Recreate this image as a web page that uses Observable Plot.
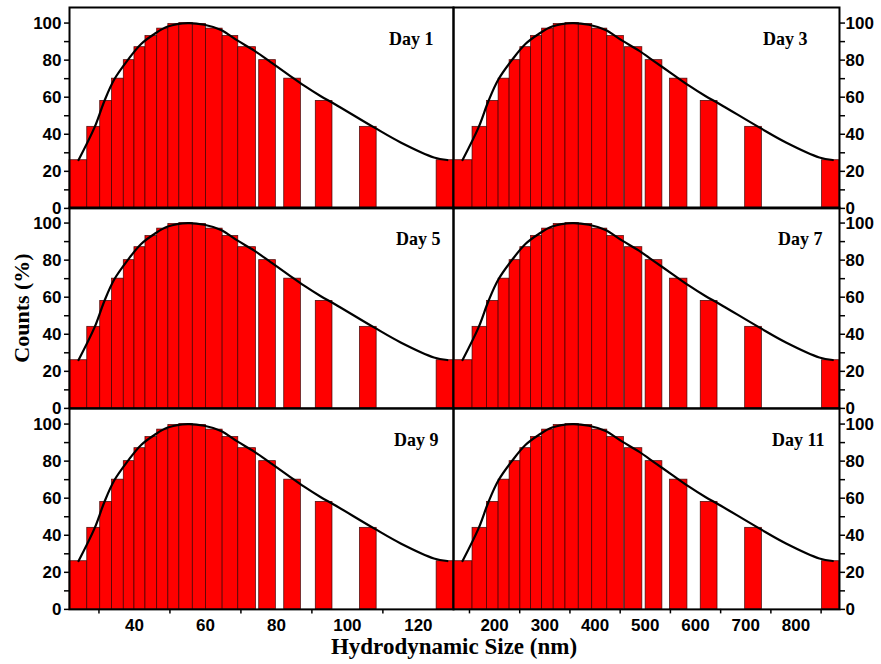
<!DOCTYPE html>
<html><head><meta charset="utf-8">
<script src="https://cdn.jsdelivr.net/npm/d3@7"></script>
<script src="https://cdn.jsdelivr.net/npm/@observablehq/plot@0.6"></script>
<style>
body{margin:0;background:#fff;}
#chart{position:relative;width:881px;height:664px;overflow:hidden;background:#fff;}
.panel{position:absolute;}
.title{position:absolute;font-family:"Liberation Serif","Times New Roman",serif;font-weight:bold;color:#000;white-space:nowrap;line-height:1;}
</style></head><body><div id="chart"></div>
<script>
// ---- data ----
const days = ["Day 1", "Day 3", "Day 5", "Day 7", "Day 9", "Day 11"];
const counts = [26, 44, 58, 70, 80, 87, 93, 97, 99.5, 100, 99.5, 97, 93, 87, 80, 70, 58, 44, 26];
// bin edges (nm), left column (small size axis)
const smallStart = [21.7, 26.7, 30.35, 33.7, 37.0, 40.0, 43.1, 46.4, 49.55, 52.65, 56.45, 60.15, 64.85, 69.25, 75.15, 82.2, 91.1, 103.55, 125.15];
const smallEnd   = [26.7, 30.35, 33.7, 37.0, 40.0, 43.1, 46.4, 49.55, 52.65, 56.45, 60.15, 64.85, 69.25, 74.25, 79.85, 86.9, 95.8, 108.25, 129.9];
// bin edges (nm), right column (large size axis)
const largeStart = [118.2, 156.1, 184.8, 208.0, 229.9, 251.3, 272.6, 294.6, 317.7, 341.1, 367.6, 394.3, 424.3, 459.4, 500.7, 549.2, 610.4, 698.8, 851.9];
const largeEnd   = [156.1, 184.8, 208.0, 229.9, 251.3, 272.6, 294.6, 317.7, 341.1, 367.6, 394.3, 424.3, 457.4, 494.1, 534.0, 583.9, 643.8, 732.1, 886.4];
// fitted curve points
const fitY      = [26.1, 43.7, 58.1, 69.8, 80.1, 88.7, 94.1, 98.1, 100, 99.1, 96.3, 90.5, 85.1, 78.8, 72.5, 66.2, 60.5, 56.5, 43.7, 35.6, 27.5, 26.1];
const fitSmallX = [24.25, 28.75, 31.56, 34.37, 38.14, 41.88, 45.63, 49.40, 55.02, 59.69, 64.39, 69.09, 73.76, 78.46, 83.15, 87.82, 92.52, 96.26, 107.51, 115.02, 124.39, 128.16];
const fitLargeX = [136.2, 168.1, 188.0, 208.0, 234.7, 261.3, 287.8, 314.5, 354.4, 387.6, 420.9, 454.2, 487.3, 520.6, 554.0, 587.1, 620.4, 646.9, 726.8, 780.1, 846.5, 873.2];
// axis ticks
const yTicks = [0, 10, 20, 30, 40, 50, 60, 70, 80, 90, 100];
const smallTicks = [40, 60, 80, 100, 120];
const smallMinor = [30, 50, 70, 90, 110];
const largeTicks = [200, 300, 400, 500, 600, 700, 800];
const largeMinor = [150, 250, 350, 450, 550, 650, 750, 850];
const smallDomain = [21.7, 129.9];
const largeDomain = [118.2, 886.6];
const yDomain = [0, 108.4];

// ---- layout ----
const M = 50;
const colX = [69, 453], colW = [384, 386];
const rowTop0 = 6.5, rowH = 200.9;
const dayDx = [-20, -32, -13, -17, -15, -15];
const sans = "'Liberation Sans', Arial, sans-serif";
const serif = "'Liberation Serif', 'Times New Roman', serif";

const chart = document.getElementById("chart");

days.forEach((day, i) => {
  const col = i % 2, row = Math.floor(i / 2);
  const starts = col === 0 ? smallStart : largeStart;
  const ends = col === 0 ? smallEnd : largeEnd;
  const fx = col === 0 ? fitSmallX : fitLargeX;
  const bars = counts.map((c, j) => ({x1: starts[j], x2: ends[j], y0: 0, y: c}));
  const fit = fx.map((x, j) => ({x, y: fitY[j]}));
  const bottom = row === 2;
  const marks = [
    Plot.rect(bars, {x1: "x1", x2: "x2", y1: "y0", y2: "y", fill: "#ff0000", stroke: "#3a0000", strokeWidth: 0.8, strokeOpacity: 0.85}),
    Plot.line(fit, {x: "x", y: "y", curve: "catmull-rom", stroke: "black", strokeWidth: 2.2}),
    Plot.axisY({ticks: yTicks, anchor: col === 0 ? "left" : "right", tickSize: 5, tickPadding: col === 0 ? 3 : 1,
      tickFormat: d => d % 20 === 0 ? String(d) : "", label: null,
      fontSize: 17, fontWeight: "bold", fontFamily: sans, strokeWidth: 1.5}),
    Plot.text([day], {frameAnchor: "top-right", textAnchor: "end", lineAnchor: "middle", dx: dayDx[i], dy: 32,
      fontFamily: serif, fontWeight: "bold", fontSize: 18, fill: "black"}),
    Plot.frame({stroke: "black", strokeWidth: 2})
  ];
  if (bottom) {
    marks.push(Plot.axisX({ticks: col === 0 ? smallTicks : largeTicks, tickSize: 0, tickPadding: 10, label: null,
      fontSize: 17, fontWeight: "bold", fontFamily: sans}));
    marks.push(Plot.axisX({ticks: col === 0 ? smallMinor : largeMinor, tickSize: 4.5, tickFormat: () => "", label: null, strokeWidth: 1.5}));
  }
  const p = Plot.plot({
    width: colW[col] + 2 * M,
    height: rowH + 2 * M,
    marginLeft: M, marginRight: M, marginTop: M, marginBottom: M,
    x: {domain: col === 0 ? smallDomain : largeDomain, axis: bottom ? undefined : null},
    y: {domain: yDomain},
    style: {background: "transparent", overflow: "visible", maxWidth: "none", color: "black", fontFamily: sans},
    marks
  });
  const wrap = document.createElement("div");
  wrap.className = "panel";
  wrap.style.left = (colX[col] - M) + "px";
  wrap.style.top = (rowTop0 + row * rowH - M) + "px";
  wrap.appendChild(p);
  chart.appendChild(wrap);
});

const yt = document.createElement("div");
yt.className = "title";
yt.textContent = "Counts (%)";
yt.style.fontSize = "22px";
yt.style.left = "22px";
yt.style.top = "308px";
yt.style.transform = "translate(-50%,-50%) rotate(-90deg)";
chart.appendChild(yt);

const xt = document.createElement("div");
xt.className = "title";
xt.textContent = "Hydrodynamic Size (nm)";
xt.style.fontSize = "23px";
xt.style.left = "454px";
xt.style.top = "646px";
xt.style.transform = "translate(-50%,-50%)";
chart.appendChild(xt);
</script>
</body></html>
